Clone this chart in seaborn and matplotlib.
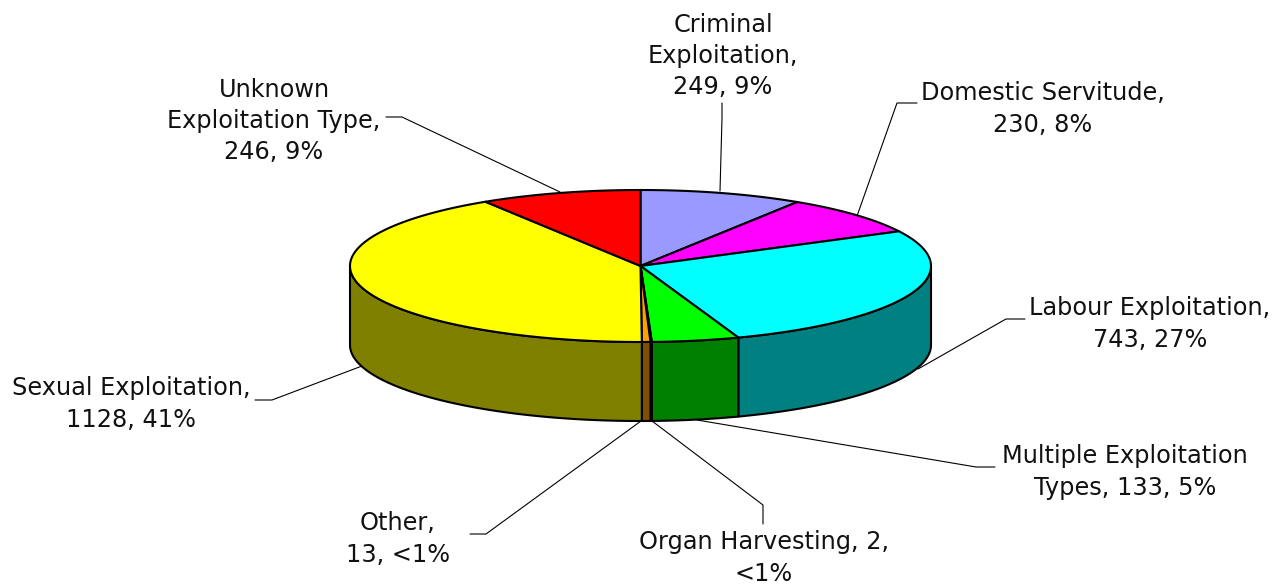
import numpy as np
import matplotlib
matplotlib.use("Agg")
import matplotlib.pyplot as plt
import seaborn as sns

# slices, clockwise from the top of the pie
categories = ["Criminal Exploitation", "Domestic Servitude", "Labour Exploitation",
              "Multiple Exploitation Types", "Organ Harvesting", "Other",
              "Sexual Exploitation", "Unknown Exploitation Type"]
counts = [249, 230, 743, 133, 2, 13, 1128, 246]
labels = ["Criminal\nExploitation,\n249, 9%", "Domestic Servitude,\n230, 8%",
          "Labour Exploitation,\n743, 27%", "Multiple Exploitation\nTypes, 133, 5%",
          "Organ Harvesting, 2,\n<1%", "Other,\n13, <1%",
          "Sexual Exploitation,\n1128, 41%", "Unknown\nExploitation Type,\n246, 9%"]
top_colors = ["#9999ff", "#ff00ff", "#00ffff", "#00ff00", "#ff0000", "#ffa000", "#ffff00", "#ff0000"]
side_colors = ["#4c4c80", "#800080", "#008080", "#008000", "#800000", "#805000", "#808000", "#800000"]

# label centres and leader lines in picture pixels
label_pos = [(723, 56), (1043, 109), (1150, 324), (1125, 472), (764, 558), (398, 539), (131, 404), (274, 121)]
leaders = [[(722, 103), (722, 118), (720, 191)],
           [(917, 103), (897, 103), (857, 216)],
           [(1025, 319), (1006, 319), (918, 369)],
           [(995, 467), (976, 467), (697, 420)],
           [(763, 524), (763, 505), (652, 421)],
           [(470, 534), (486, 534), (641, 421)],
           [(255, 400), (272, 400), (362, 366)],
           [(386, 117), (402, 117), (560, 192)]]

cx, cy, rx, ry, depth = 640.5, 266, 290.5, 76, 79

sns.set_theme(style="white")
plt.rcParams['font.family'] = ['DejaVu Sans']

fig, ax = plt.subplots(figsize=(12.73, 5.86), dpi=100)
fig.subplots_adjust(0, 0, 1, 1)
ax.set_xlim(0, 1273)
ax.set_ylim(586, 0)
ax.axis("off")

edges = np.concatenate([[0], np.cumsum(counts)]) / sum(counts) * 2 * np.pi


def rim(a, b):
    t = np.linspace(a, b, max(int((b - a) * 80), 2))
    return cx + rx * np.sin(t), cy - ry * np.cos(t)


# walls first, only the front half of the pie shows them
for i in range(len(counts)):
    a = max(edges[i], np.pi / 2)
    b = min(edges[i + 1], 3 * np.pi / 2)
    if b <= a:
        continue
    x, y = rim(a, b)
    ax.fill(np.r_[x, x[::-1]], np.r_[y, y[::-1] + depth], facecolor=side_colors[i],
            edgecolor="black", linewidth=1.5, joinstyle="round", zorder=2)

for i in range(len(counts)):
    x, y = rim(edges[i], edges[i + 1])
    ax.fill(np.r_[cx, x], np.r_[cy, y], facecolor=top_colors[i],
            edgecolor="black", linewidth=1.5, joinstyle="round", zorder=3)

for pts in leaders:
    ax.plot(*zip(*pts), color="black", linewidth=0.8, zorder=1)

for text, (x, y) in zip(labels, label_pos):
    ax.text(x, y, text, ha="center", va="center", fontsize=17.3, color="#111111", linespacing=1.38)

fig.savefig("out.png", dpi=100)
